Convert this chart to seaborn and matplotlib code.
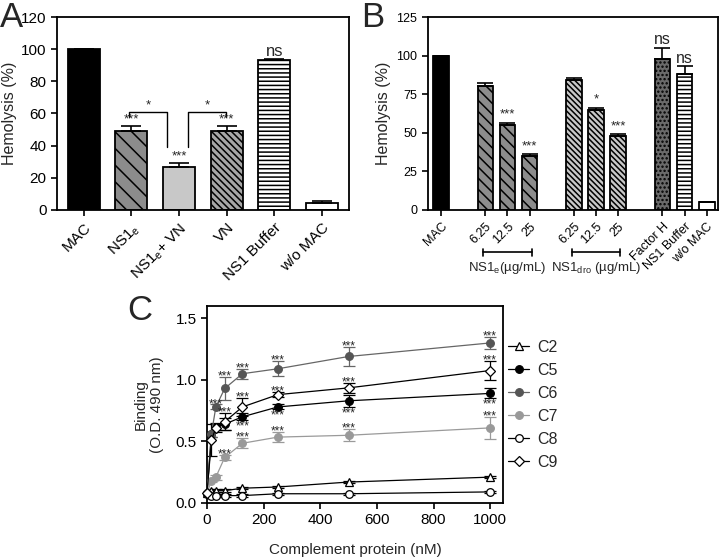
import numpy as np
import pandas as pd
import seaborn as sns
import matplotlib.pyplot as plt
from matplotlib.transforms import blended_transform_factory

# ---- panel A data
a_labels = ['MAC', 'NS1$_\\mathregular{e}$', 'NS1$_\\mathregular{e}$+ VN', 'VN', 'NS1 Buffer', 'w/o MAC']
a_values = [100, 49, 27, 49, 93, 4.5]
a_errors = [0, 3, 2, 3.5, 0.6, 1]
a_marks = ['', '***', '***', '***', 'ns', '']

# ---- panel B data
b_positions = [0, 2, 3, 4, 6, 7, 8, 10, 11, 12]
b_labels = ['MAC', '6.25', '12.5', '25', '6.25', '12.5', '25', 'Factor H', 'NS1 Buffer', 'w/o MAC']
b_values = [100, 80, 55, 35, 84.5, 65, 48, 97.5, 88, 5]
b_errors = [0, 2, 1.5, 1, 1, 1, 1, 7.5, 5, 0]
b_marks = ['', '', '***', '***', '', '*', '***', 'ns', 'ns', '']

# ---- panel C data
c_conc = [0, 15.6, 31.25, 62.5, 125, 250, 500, 1000]
c2 = [0.08, 0.10, 0.10, 0.10, 0.12, 0.13, 0.17, 0.21]
c5 = [0.08, 0.56, 0.62, 0.64, 0.70, 0.78, 0.83, 0.89]
c6 = [0.08, 0.56, 0.78, 0.93, 1.05, 1.09, 1.19, 1.30]
c7 = [0.08, 0.18, 0.21, 0.37, 0.485, 0.535, 0.55, 0.61]
c8 = [0.07, 0.06, 0.06, 0.06, 0.06, 0.075, 0.075, 0.09]
c9 = [0.08, 0.51, 0.61, 0.66, 0.78, 0.88, 0.935, 1.076]
c2_err = [0, 0.01, 0.01, 0.01, 0.01, 0.01, 0.01, 0.01]
c5_err = [0, 0.02, 0.03, 0.05, 0.03, 0.02, 0.05, 0.04]
c6_err = [0, 0.02, 0.02, 0.09, 0.04, 0.06, 0.08, 0.05]
c7_err = [0, 0.01, 0.02, 0.02, 0.04, 0.04, 0.05, 0.09]
c8_err = [0, 0.01, 0.01, 0.01, 0.01, 0.01, 0.01, 0.01]
c9_err = [0, 0.13, 0.03, 0.07, 0.07, 0.02, 0.04, 0.08]
# which points carry "***" and whether above (1) or below (-1)
c5_stars = [0, 0, 0, 0, -1, -1, -1, -1]
c6_stars = [0, 0, 1, 1, 1, 1, 1, 1]
c7_stars = [0, 0, 0, 1, 1, 1, 1, 1]
c9_stars = [0, 0, 0, 1, 1, 1, 1, 1]

sns.set_style('ticks')
plt.rcParams['font.family'] = ['Liberation Sans', 'DejaVu Sans']
plt.rcParams['axes.edgecolor'] = 'black'
plt.rcParams['axes.linewidth'] = 1.3
plt.rcParams['xtick.color'] = 'black'
plt.rcParams['ytick.color'] = 'black'
plt.rcParams['hatch.linewidth'] = 1.1

fig = plt.figure(figsize=(7.2, 5.58), dpi=100)

# ================= Panel A
axA = fig.add_axes([0.079, 0.6237, 0.406, 0.3458])
sns.barplot(x=a_labels, y=a_values, ax=axA, width=0.67, color='white',
            edgecolor='black', linewidth=1.3)
a_colors = ['black', '#8c8c8c', '#c8c8c8', '#a6a6a6', 'white', 'white']
a_hatches = [None, '\\\\', None, '\\' * 5, '----', None]
for p, fc, h in zip(axA.patches, a_colors, a_hatches):
    p.set_facecolor(fc)
    p.set_edgecolor('black')
    if h:
        p.set_hatch(h)
xa = np.arange(len(a_values))
axA.errorbar(xa, a_values, yerr=[np.zeros(len(a_errors)), a_errors], fmt='none',
             ecolor='black', elinewidth=1.2, capsize=7, capthick=1.2, zorder=3)
for x, v, e, m in zip(xa, a_values, a_errors, a_marks):
    if m == 'ns':
        axA.text(x, v + e + 0.5, m, ha='center', va='bottom', fontsize=12)
    elif m:
        axA.text(x, v + e + 0.3, m, ha='center', va='bottom', fontsize=9.5)
# significance brackets
for x0, x1, y0, y1 in [(0.96, 1.75, 58, 39), (2.19, 2.98, 39, 58)]:
    axA.plot([x0, x0, x1, x1], [y0, 61, 61, y1], color='black', lw=1.0)
    axA.text((x0 + x1) / 2, 61.5, '*', ha='center', va='bottom', fontsize=9.5)
axA.set_ylim(0, 120)
axA.set_yticks(range(0, 121, 20))
axA.set_xlim(-0.56, 5.57)
axA.set_xticks(xa, a_labels, rotation=45, ha='right', rotation_mode='anchor')
axA.tick_params(axis='both', labelsize=11, length=4, width=1.2)
axA.set_ylabel('Hemolysis (%)', fontsize=11.5, labelpad=3)
axA.set_xlabel('')

# ================= Panel B
axB = fig.add_axes([0.594, 0.6237, 0.403, 0.3458])
sns.barplot(x=b_positions, y=b_values, ax=axB, native_scale=True, width=0.7,
            color='white', edgecolor='black', linewidth=1.3)
b_colors = ['black', '#8c8c8c', '#8c8c8c', '#8c8c8c', '#c8c8c8', '#c8c8c8', '#c8c8c8',
            '#6a6a6a', 'white', 'white']
b_hatches = [None, '\\\\\\', '\\\\\\', '\\\\\\', '\\' * 6, '\\' * 6, '\\' * 6,
             '....', '----', None]
for p, fc, h in zip(axB.patches, b_colors, b_hatches):
    p.set_facecolor(fc)
    p.set_edgecolor('black')
    if h:
        p.set_hatch(h)
axB.errorbar(b_positions, b_values, yerr=[np.zeros(len(b_errors)), b_errors], fmt='none',
             ecolor='black', elinewidth=1.2, capsize=6, capthick=1.2, zorder=3)
for x, v, e, m in zip(b_positions, b_values, b_errors, b_marks):
    if m == 'ns':
        axB.text(x, v + e + 0.5, m, ha='center', va='bottom', fontsize=11.5)
    elif m:
        axB.text(x, v + e + 1.5, m, ha='center', va='bottom', fontsize=9.5)
axB.set_ylim(0, 125)
axB.set_yticks(range(0, 126, 25))
axB.set_xlim(-0.6, 12.5)
axB.set_xticks(b_positions, b_labels, rotation=45, ha='right', rotation_mode='anchor')
axB.tick_params(axis='both', labelsize=9, length=4, width=1.2)
axB.set_ylabel('Hemolysis (%)', fontsize=11.5, labelpad=4)
axB.set_xlabel('')
trB = blended_transform_factory(axB.transData, axB.transAxes)
for x0, x1, txt in [(1.9, 4.1, 'NS1$_\\mathregular{e}$(µg/mL)'),
                    (5.9, 8.1, 'NS1$_\\mathregular{dro}$ (µg/mL)')]:
    axB.plot([x0, x1], [-0.22, -0.22], color='black', lw=1.2, transform=trB, clip_on=False)
    for xx in (x0, x1):
        axB.plot([xx, xx], [-0.20, -0.24], color='black', lw=1.2, transform=trB, clip_on=False)
    axB.text((x0 + x1) / 2, -0.26, txt, ha='center', va='top', fontsize=9.5,
             transform=trB)

# ================= Panel C
axC = fig.add_axes([0.2875, 0.0986, 0.411, 0.353])
series = [
    ('C2', c2, c2_err, None, '^', 'black', 'white', 'black'),
    ('C5', c5, c5_err, c5_stars, 'o', 'black', 'black', 'black'),
    ('C6', c6, c6_err, c6_stars, 'o', '#666666', '#555555', '#555555'),
    ('C7', c7, c7_err, c7_stars, 'o', '#9a9a9a', '#999999', '#999999'),
    ('C8', c8, c8_err, None, 'o', 'black', 'white', 'black'),
    ('C9', c9, c9_err, c9_stars, 'D', 'black', 'white', 'black'),
]
for name, vals, errs, stars, mk, lc, mfc, mec in series:
    axC.errorbar(c_conc, vals, yerr=errs, fmt='none', ecolor=lc, elinewidth=0.9,
                 capsize=4, capthick=0.9, zorder=2)
    sns.lineplot(x=c_conc, y=vals, ax=axC, color=lc, linewidth=0.9, marker=mk,
                 markersize=5.5, markerfacecolor=mfc, markeredgecolor=mec,
                 markeredgewidth=0.9, label=name, clip_on=False, zorder=3)
    if stars:
        for x, v, e, s in zip(c_conc, vals, errs, stars):
            if s > 0:
                axC.text(x, v + e - 0.02, '***', ha='center', va='baseline', fontsize=8.5)
            elif s < 0:
                axC.text(x, v - e, '***', ha='center', va='top', fontsize=8.5)
axC.set_xlim(0, 1045)
axC.set_ylim(0, 1.6)
axC.set_xticks(range(0, 1001, 200))
axC.set_yticks([0.0, 0.5, 1.0, 1.5])
axC.set_yticklabels(['0.0', '0.5', '1.0', '1.5'])
axC.tick_params(axis='both', labelsize=11, length=4, width=1.2)
axC.set_xlabel('Complement protein (nM)', fontsize=11, labelpad=11)
axC.set_ylabel('Binding\n(O.D. 490 nm)', fontsize=11, labelpad=8)
axC.legend(loc='upper left', bbox_to_anchor=(0.97, 0.9), frameon=False,
           fontsize=11.5, handlelength=1.3, labelspacing=0.5, handletextpad=0.5)

fig.text(0.0, 0.998, 'A', fontsize=25, va='top', ha='left')
fig.text(0.502, 0.998, 'B', fontsize=25, va='top', ha='left')
fig.text(0.177, 1 - 294 / 558, 'C', fontsize=25, va='top', ha='left')

fig.savefig('out.png', dpi=100)
